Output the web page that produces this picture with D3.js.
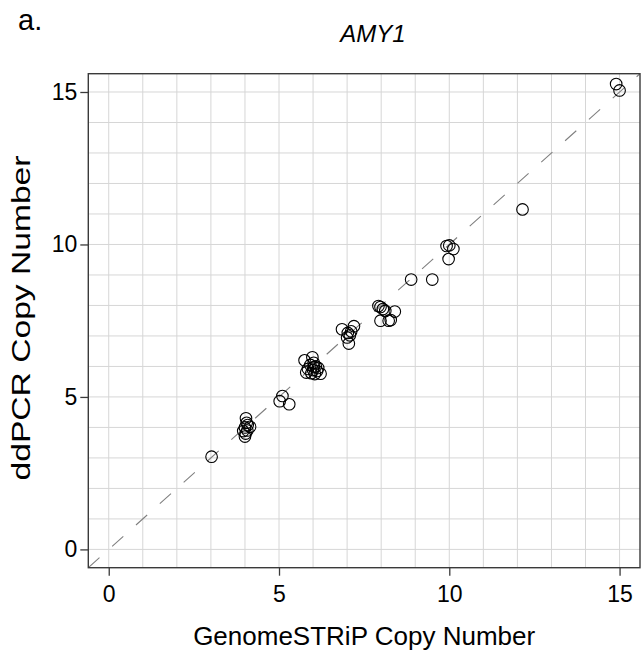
<!DOCTYPE html>
<html>
<head>
<meta charset="utf-8">
<script src="https://cdn.jsdelivr.net/npm/d3@7"></script>
<style>
  html, body { margin: 0; padding: 0; background: #fff; }
  svg { display: block; font-family: "Liberation Sans", Arial, Helvetica, sans-serif; }
</style>
</head>
<body>
<svg id="chart" width="642" height="654"></svg>
<script>
// GenomeSTRiP vs ddPCR copy-number estimates for AMY1
const genomeStrip = [
  3.02,
  4.03, 4.05, 4.08, 4.00, 4.15, 3.95, 4.07, 4.02, 4.00,
  5.02, 5.10, 5.30,
  5.75, 5.98, 6.02, 5.92, 6.08, 5.85, 6.00, 6.12, 5.80, 6.22, 6.05, 5.95, 6.15, 6.02,
  6.85, 7.20, 7.02, 7.08, 7.00, 7.05, 7.12,
  7.92, 7.98, 8.05, 8.12, 8.40, 7.98, 8.28, 8.22,
  8.88, 9.50,
  9.92, 10.00, 10.12, 9.98,
  12.15,
  14.90, 15.00
];
const ddPCR = [
  3.04,
  4.30, 4.15, 4.08, 4.00, 4.02, 3.88, 3.90, 3.80, 3.70,
  4.86, 5.03, 4.76,
  6.20, 6.30, 6.12, 6.05, 6.00, 5.92, 5.88, 5.85, 5.80, 5.76, 5.75, 5.78, 5.95, 5.98,
  7.22, 7.32, 7.10, 7.02, 6.95, 6.75, 7.15,
  7.98, 7.95, 7.88, 7.82, 7.80, 7.50, 7.52, 7.50,
  8.85, 8.85,
  9.95, 9.97, 9.85, 9.52,
  11.15,
  15.26, 15.05
];
const xTicks = [0, 5, 10, 15];
const yTicks = [0, 5, 10, 15];
const gridValues = d3.range(0, 16);

const panelLabel = "a.";
const chartTitle = "AMY1";
const xTitle = "GenomeSTRiP Copy Number";
const yTitle = "ddPCR Copy Number";

const svg = d3.select("#chart");
const box = { left: 88.3, right: 640, top: 73.7, bottom: 567.7 };

const x = d3.scaleLinear().domain([-0.6, 15.6]).range([box.left, box.right]);
const y = d3.scaleLinear().domain([-0.6, 15.6]).range([box.bottom, box.top]);

svg.append("clipPath").attr("id", "plot-clip")
  .append("rect")
  .attr("x", box.left).attr("y", box.top)
  .attr("width", box.right - box.left).attr("height", box.bottom - box.top);

// grid
const grid = svg.append("g").attr("stroke", "#d6d6d6").attr("stroke-width", 1);
grid.selectAll("line.v").data(gridValues).join("line")
  .attr("class", "v")
  .attr("x1", d => x(d)).attr("x2", d => x(d))
  .attr("y1", box.top).attr("y2", box.bottom);
grid.selectAll("line.h").data(gridValues).join("line")
  .attr("class", "h")
  .attr("y1", d => y(d)).attr("y2", d => y(d))
  .attr("x1", box.left).attr("x2", box.right);

// identity line
svg.append("line")
  .attr("clip-path", "url(#plot-clip)")
  .attr("x1", x(-0.6)).attr("y1", y(-0.6))
  .attr("x2", x(15.6)).attr("y2", y(15.6))
  .attr("stroke", "#808080").attr("stroke-width", 1.1)
  .attr("stroke-dasharray", "15,17");

// points
svg.append("g").selectAll("circle")
  .data(genomeStrip.map((g, i) => [g, ddPCR[i]]))
  .join("circle")
  .attr("cx", d => x(d[0])).attr("cy", d => y(d[1]))
  .attr("r", 5.8)
  .attr("fill", "none").attr("stroke", "#000").attr("stroke-width", 1.1);

// frame
svg.append("rect")
  .attr("x", box.left).attr("y", box.top)
  .attr("width", box.right - box.left).attr("height", box.bottom - box.top)
  .attr("fill", "none").attr("stroke", "#3a3a3a").attr("stroke-width", 1.4);

// axes
const xAxis = d3.axisBottom(x).tickValues(xTicks).tickSize(8).tickPadding(10).tickSizeOuter(0);
const yAxis = d3.axisLeft(y).tickValues(yTicks).tickSize(8).tickPadding(3).tickSizeOuter(0);

const gx = svg.append("g").attr("transform", `translate(0,${box.bottom})`).call(xAxis);
const gy = svg.append("g").attr("transform", `translate(${box.left},0)`).call(yAxis);
[gx, gy].forEach(g => {
  g.select(".domain").remove();
  g.selectAll(".tick line").attr("stroke", "#3a3a3a").attr("stroke-width", 1.3);
  g.selectAll(".tick text").attr("fill", "#000")
    .style("font-size", "23px").style("font-family", "'Liberation Sans', Arial, sans-serif");
});

// titles
svg.append("text").attr("x", 18).attr("y", 30)
  .style("font-size", "29px").text(panelLabel);
svg.append("text").attr("x", 373).attr("y", 42).attr("text-anchor", "middle")
  .style("font-size", "24px").style("font-style", "italic").text(chartTitle);
svg.append("text").attr("x", (box.left + box.right) / 2).attr("y", 645)
  .attr("text-anchor", "middle").style("font-size", "26px").text(xTitle);
svg.append("text")
  .attr("transform", `translate(30,318) rotate(-90)`)
  .attr("text-anchor", "middle").style("font-size", "25px")
  .attr("textLength", 325).attr("lengthAdjust", "spacingAndGlyphs")
  .text(yTitle);
</script>
</body>
</html>
